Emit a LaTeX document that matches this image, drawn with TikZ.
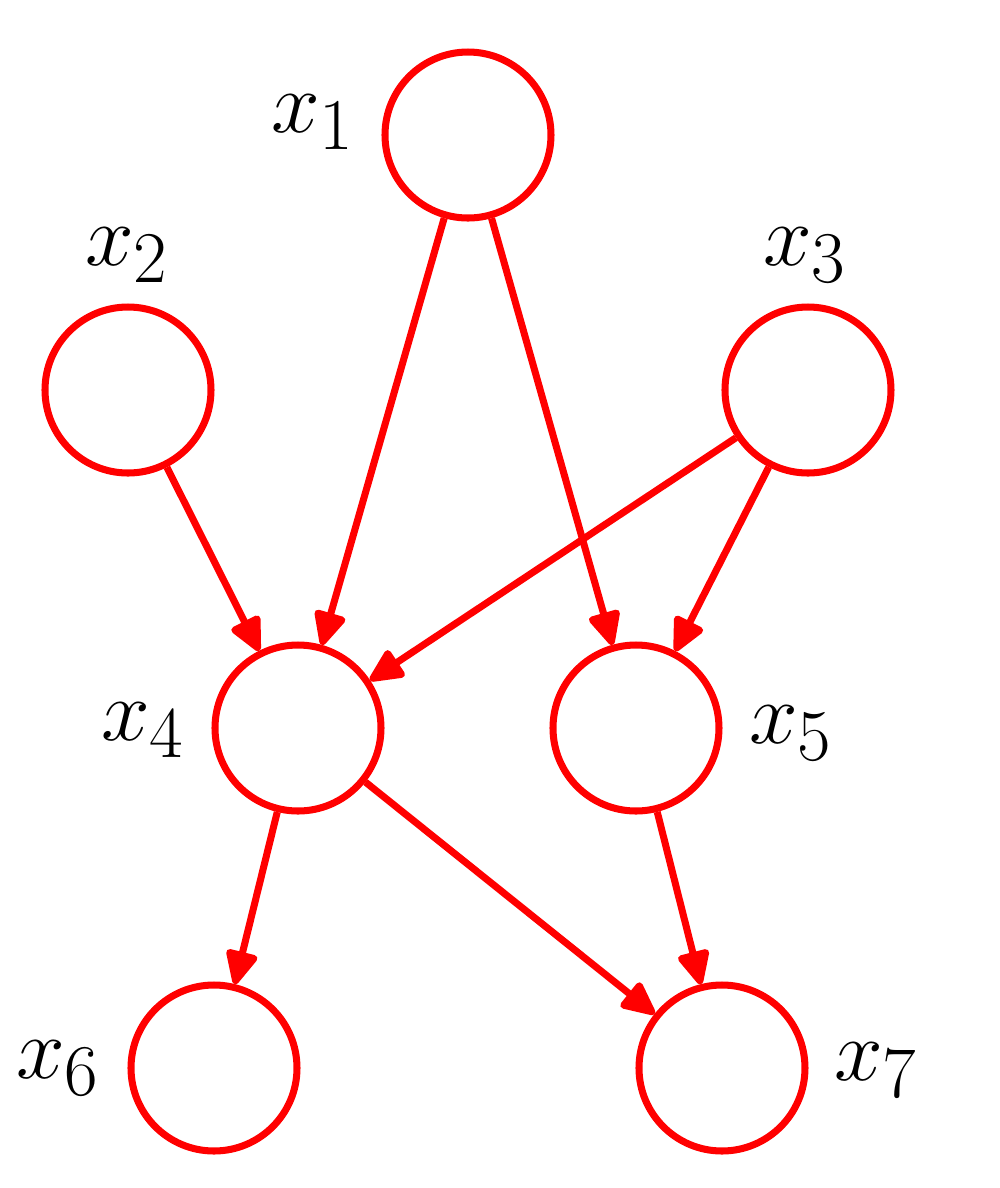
\documentclass[tikz,border=0pt]{standalone}
\usetikzlibrary{arrows.meta}

\tikzset{
  var/.style={circle, draw=red, line width=2pt, minimum size=1.66cm, inner sep=0pt},
  varlabel/.style={font=\Huge, inner sep=0pt},
  edge/.style={draw=red, line width=2pt,
    -{Triangle[round, length=0.38cm, width=0.34cm]}, shorten >=0pt}
}

\begin{document}
\begin{tikzpicture}

  % --- 1. bounding box ---
  \useasboundingbox (0,0) rectangle (10,-11.88);

  % --- 2. variables ---
  \node[var] (x1) at (4.68,-1.35) {};
  \node[var] (x2) at (1.28,-3.90) {};
  \node[var] (x3) at (8.08,-3.90) {};
  \node[var] (x4) at (2.98,-7.28) {};
  \node[var] (x5) at (6.36,-7.28) {};
  \node[var] (x6) at (2.14,-10.68) {};
  \node[var] (x7) at (7.22,-10.68) {};

  % --- 3. labels ---
  \node[varlabel] (l1) at (3.13,-1.22) {$x_1$};
  \node[varlabel] (l2) at (1.27,-2.55) {$x_2$};
  \node[varlabel] (l3) at (8.05,-2.55) {$x_3$};
  \node[varlabel] (l4) at (1.43,-7.30) {$x_4$};
  \node[varlabel] (l5) at (7.91,-7.33) {$x_5$};
  \node[varlabel] (l6) at (0.58,-10.68) {$x_6$};
  \node[varlabel] (l7) at (8.76,-10.70) {$x_7$};

  % --- 4. edges ---
  \draw[edge] (x1) -- (x4);
  \draw[edge] (x1) -- (x5);
  \draw[edge] (x2) -- (x4);
  \draw[edge] (x3) -- (x4);
  \draw[edge] (x3) -- (x5);
  \draw[edge] (x4) -- (x6);
  \draw[edge] (x4) -- (x7);
  \draw[edge] (x5) -- (x7);

\end{tikzpicture}
\end{document}
